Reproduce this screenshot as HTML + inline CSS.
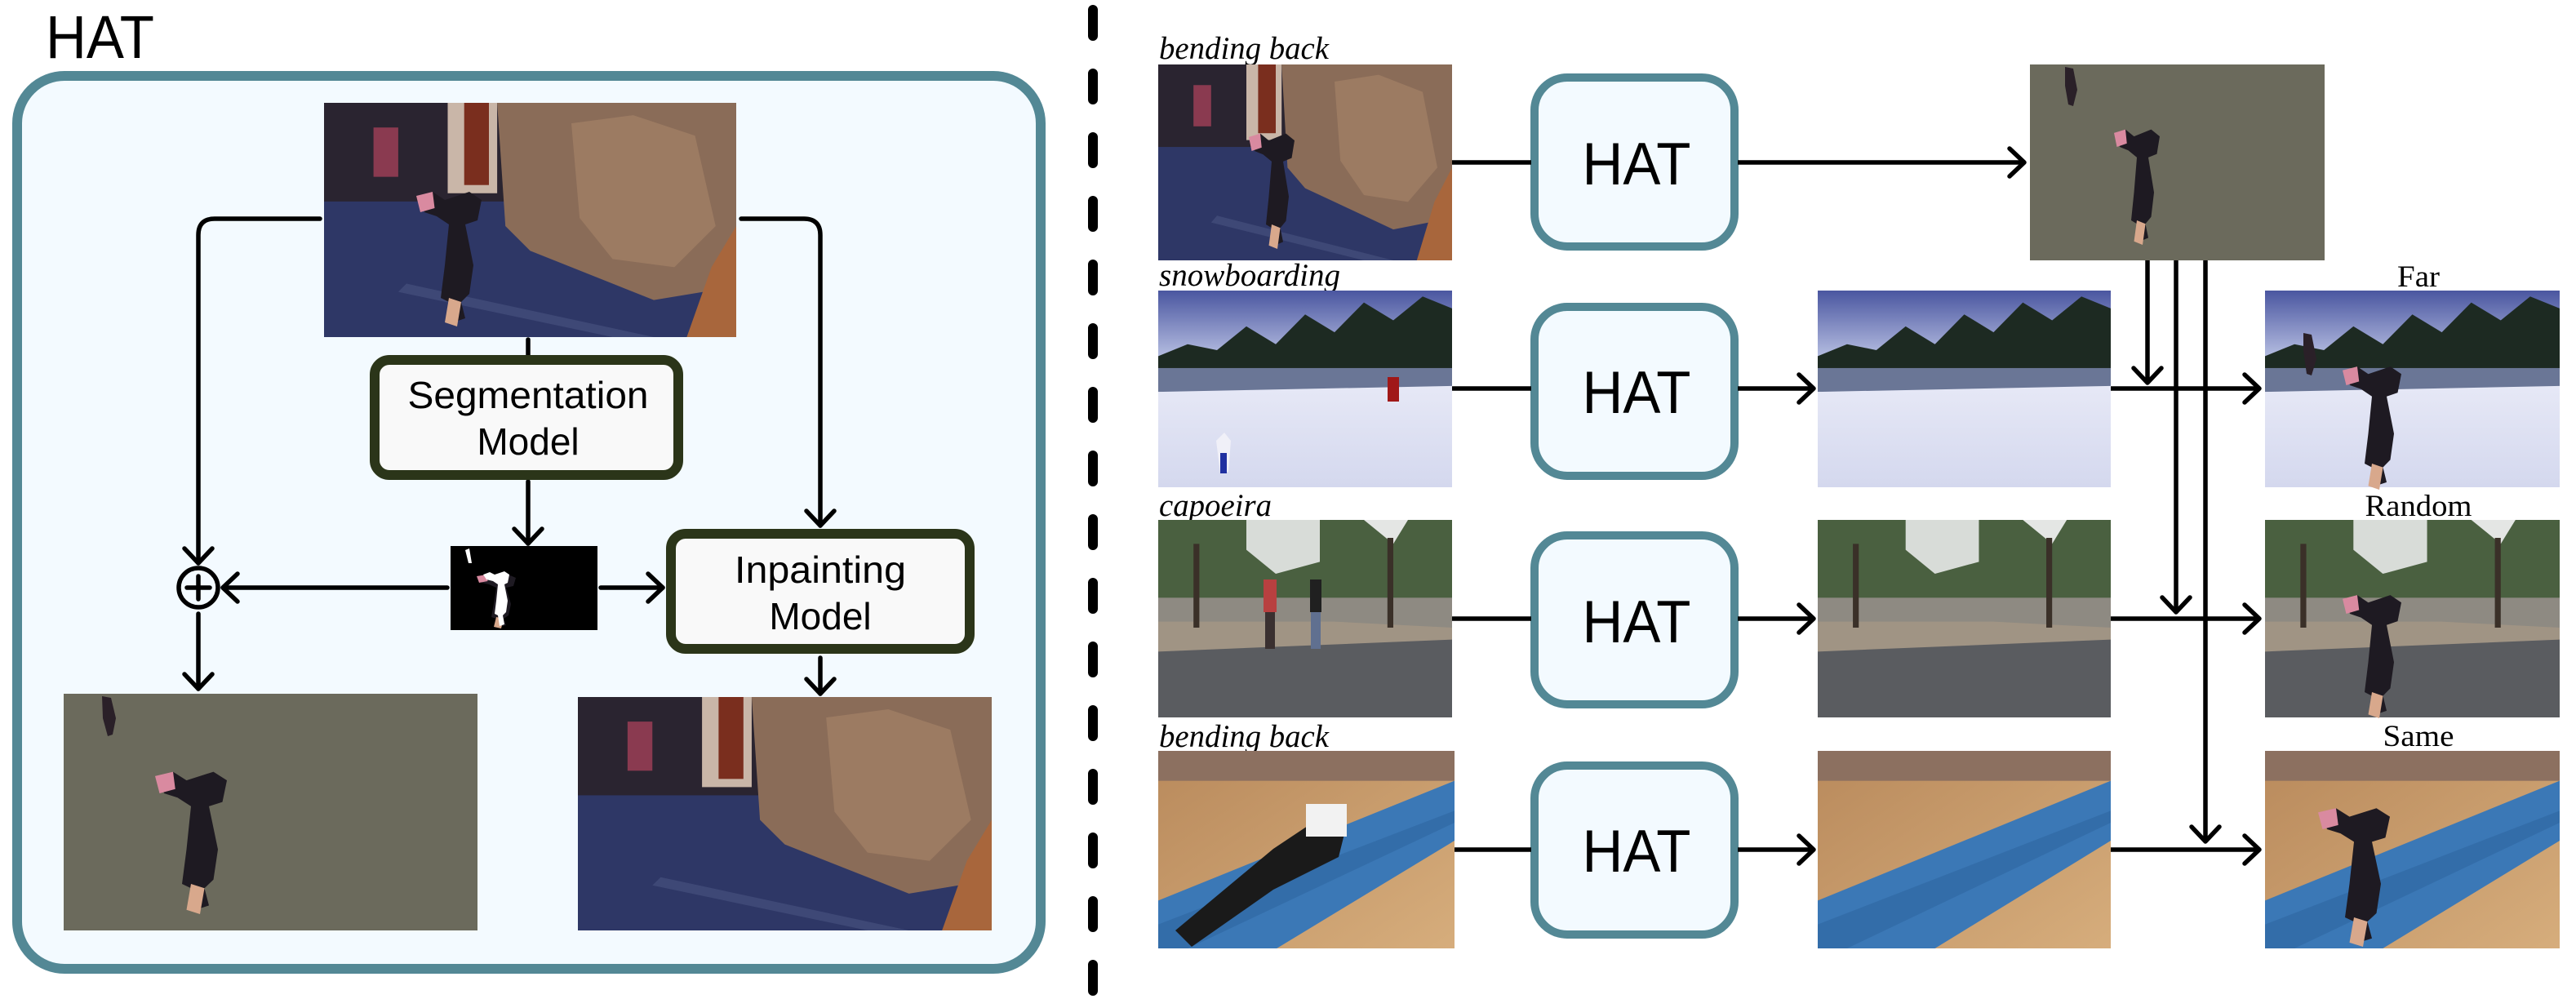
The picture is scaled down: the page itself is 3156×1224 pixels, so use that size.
<!DOCTYPE html>
<html><head><meta charset="utf-8"><style>
html,body{margin:0;padding:0;background:#fff;}
svg{display:block;}
</style></head><body>
<svg width="3156" height="1224" viewBox="0 0 3156 1224" xmlns="http://www.w3.org/2000/svg">
<defs>
<marker id="ar" viewBox="0 0 24 40" refX="21" refY="20" markerWidth="24" markerHeight="40" orient="auto" markerUnits="userSpaceOnUse">
<path d="M3,3 L21,20 L3,37" fill="none" stroke="#000" stroke-width="5.5" stroke-linecap="round" stroke-linejoin="round"/>
</marker>
<linearGradient id="skyG" x1="0" y1="0" x2="0" y2="1"><stop offset="0" stop-color="#4a56a0"/><stop offset="1" stop-color="#b4bce0"/></linearGradient>
<linearGradient id="snowG" x1="0" y1="0" x2="0" y2="1"><stop offset="0" stop-color="#e6e8f6"/><stop offset="1" stop-color="#d4d8ee"/></linearGradient>
<linearGradient id="woodG" x1="0" y1="0" x2="1" y2="1"><stop offset="0" stop-color="#b98a5c"/><stop offset="1" stop-color="#d6ad7c"/></linearGradient>
<symbol id="gym" viewBox="0 0 100 57" preserveAspectRatio="none">
<rect width="100" height="57" fill="#2e3766"/>
<rect width="45" height="24" fill="#2a2430"/>
<rect x="30" y="0" width="12" height="22" fill="#c9b6a8"/>
<rect x="34" y="0" width="6" height="20" fill="#7a2e1e"/>
<rect x="12" y="6" width="6" height="12" fill="#8a3a50"/>
<polygon points="42,0 100,0 100,40 92,46 80,48 70,44 60,40 50,36 44,30" fill="#8a6c58"/>
<polygon points="60,5 75,3 90,8 95,30 85,40 70,38 62,28" fill="#9c7b62"/>
<polygon points="94,40 100,30 100,57 88,57" fill="#a8663c"/>
<polygon points="20,44 80,57 70,57 18,46" fill="#3e4876"/>
</symbol>
<symbol id="person" viewBox="0 0 40 70" preserveAspectRatio="none">
<path d="M2,8 L8,4 L14,8 L26,4 L32,8 L30,18 L24,20 L28,40 L26,54 L22,58 L24,66 L18,68 L16,58 L12,56 L14,40 L16,20 L10,16 L4,14 Z" fill="#1e1a22"/>
<path d="M0,6 L8,4 L9,12 L2,14 Z" fill="#d98aa0"/>
<path d="M16,56 L22,58 L20,70 L14,68 Z" fill="#d8a88c"/>
</symbol>
<symbol id="snow" viewBox="0 0 100 66" preserveAspectRatio="none">
<rect width="100" height="66" fill="url(#snowG)"/>
<rect width="100" height="22" fill="url(#skyG)"/>
<polygon points="0,22 10,18 20,20 30,12 40,18 50,8 60,14 70,4 80,10 90,2 100,6 100,30 0,30" fill="#1d2a22"/>
<rect y="26" width="100" height="8" fill="#6a7696"/>
<polygon points="0,34 100,32 100,66 0,66" fill="url(#snowG)"/>
</symbol>
<symbol id="cap" viewBox="0 0 100 66" preserveAspectRatio="none">
<rect width="100" height="66" fill="#5a5c60"/>
<rect width="100" height="30" fill="#4a6040"/>
<polygon points="30,0 55,0 55,14 40,18 30,10" fill="#d8dcd8"/>
<polygon points="70,0 85,0 80,8" fill="#e4e6e4"/>
<rect y="26" width="100" height="10" fill="#8e8a82"/>
<polygon points="0,34 60,34 100,36 100,40 0,44" fill="#a09484"/>
<rect x="12" y="8" width="2" height="28" fill="#3a3028"/>
<rect x="78" y="6" width="2" height="30" fill="#3a3028"/>
</symbol>
<symbol id="wood" viewBox="0 0 100 66" preserveAspectRatio="none">
<rect width="100" height="66" fill="url(#woodG)"/>
<rect width="100" height="10" fill="#8c7060"/>
<polygon points="0,50 100,10 100,30 40,66 0,66" fill="#3b78b6"/>
<polygon points="0,58 100,20 100,24 10,66 0,66" fill="#2f66a0" opacity="0.6"/>
</symbol>
</defs>

<!-- LEFT PANEL -->
<text x="56" y="71" font-family="Liberation Sans, sans-serif" font-size="74" textLength="133" lengthAdjust="spacingAndGlyphs">HAT</text>
<rect x="21" y="93" width="1254" height="1094" rx="58" fill="#f3faff" stroke="#538895" stroke-width="12"/>

<use href="#gym" x="397" y="126" width="505" height="287"/>
<use href="#person" x="510" y="225" width="100" height="175"/>

<use href="#gym" x="708" y="854" width="507" height="286"/>
<rect x="78" y="850" width="507" height="290" fill="#6b6a5c"/>
<use href="#person" x="190" y="935" width="110" height="185"/>
<path d="M125,853 L136,855 L142,880 L138,900 L132,902 L126,880 Z" fill="#2a2028"/>

<rect x="552" y="669" width="180" height="103" fill="#000"/>
<use href="#person" x="584" y="700" width="60" height="70" style="filter:none"/>
<path d="M570,674 L575,672 L578,690 L574,690 Z" fill="#fff"/>
<rect x="584" y="700" width="60" height="70" fill="none"/>

<g fill="none" stroke="#000" stroke-width="5.5" stroke-linecap="round">
<path d="M392,268 L263,268 Q243,268 243,288 L243,690" marker-end="url(#ar)"/>
<path d="M908,268 L985,268 Q1005,268 1005,288 L1005,644" marker-end="url(#ar)"/>
<path d="M647,416 L647,436"/>
<path d="M647,590 L647,666" marker-end="url(#ar)"/>
<path d="M548,720 L273,720" marker-end="url(#ar)"/>
<path d="M736,720 L812,720" marker-end="url(#ar)"/>
<path d="M243,752 L243,844" marker-end="url(#ar)"/>
<path d="M1005,806 L1005,850" marker-end="url(#ar)"/>
</g>
<circle cx="243" cy="720" r="24" fill="none" stroke="#000" stroke-width="5.5"/>
<path d="M229,720 L257,720 M243,706 L243,734" stroke="#000" stroke-width="5.5" stroke-linecap="round"/>

<!-- paint person mask in white -->
<path d="M592,704 L600,701 L606,704 L618,700 L624,704 L622,714 L618,716 L622,736 L620,750 L616,754 L618,765 L612,767 L610,754 L606,752 L608,736 L610,716 L604,712 L596,710 Z" fill="#fff"/>

<rect x="459" y="441" width="372" height="141" rx="18" fill="#f9f9f9" stroke="#2b3519" stroke-width="12"/>
<text x="647" y="500" text-anchor="middle" font-family="Liberation Sans, sans-serif" font-size="46" textLength="295" lengthAdjust="spacingAndGlyphs">Segmentation</text>
<text x="647" y="557" text-anchor="middle" font-family="Liberation Sans, sans-serif" font-size="46">Model</text>
<rect x="822" y="654" width="366" height="141" rx="18" fill="#f9f9f9" stroke="#2b3519" stroke-width="12"/>
<text x="1005" y="714" text-anchor="middle" font-family="Liberation Sans, sans-serif" font-size="46" textLength="210" lengthAdjust="spacingAndGlyphs">Inpainting</text>
<text x="1005" y="771" text-anchor="middle" font-family="Liberation Sans, sans-serif" font-size="46">Model</text>

<!-- dashed divider -->
<line x1="1339" y1="12" x2="1339" y2="1224" stroke="#000" stroke-width="12" stroke-linecap="round" stroke-dasharray="32 46"/>

<!-- RIGHT PANEL -->
<g font-family="Liberation Serif, serif" font-size="39" font-style="italic">
<text x="1420" y="72" textLength="208" lengthAdjust="spacingAndGlyphs">bending back</text>
<text x="1420" y="350" textLength="222" lengthAdjust="spacingAndGlyphs">snowboarding</text>
<text x="1420" y="632" textLength="138" lengthAdjust="spacingAndGlyphs">capoeira</text>
<text x="1420" y="915" textLength="208" lengthAdjust="spacingAndGlyphs">bending back</text>
</g>
<g font-family="Liberation Serif, serif" font-size="37" text-anchor="middle">
<text x="2963" y="351" textLength="52" lengthAdjust="spacingAndGlyphs">Far</text>
<text x="2963" y="632" textLength="131" lengthAdjust="spacingAndGlyphs">Random</text>
<text x="2963" y="914" textLength="87" lengthAdjust="spacingAndGlyphs">Same</text>
</g>

<!-- column 1 -->
<use href="#gym" x="1419" y="79" width="360" height="240"/>
<use href="#person" x="1530" y="155" width="70" height="150"/>
<use href="#snow" x="1419" y="356" width="360" height="241"/>
<path d="M1490,540 L1500,530 L1508,540 L1505,578 L1495,580 Z" fill="#f0f0f8"/><rect x="1495" y="555" width="8" height="25" fill="#2030a0"/>
<rect x="1700" y="462" width="14" height="30" fill="#a01818"/>
<use href="#cap" x="1419" y="637" width="360" height="242"/>
<rect x="1548" y="710" width="16" height="40" fill="#b84040"/><rect x="1550" y="750" width="12" height="45" fill="#3a3030"/>
<rect x="1605" y="710" width="14" height="40" fill="#202020"/><rect x="1606" y="750" width="12" height="45" fill="#607090"/>
<use href="#wood" x="1419" y="920" width="363" height="242"/>
<polygon points="1440,1140 1560,1040 1620,1000 1650,1010 1640,1050 1560,1090 1460,1160" fill="#1a1a1a"/>
<rect x="1600" y="985" width="50" height="40" fill="#f2f2f2"/>

<!-- HAT boxes -->
<g fill="#f3faff" stroke="#538895" stroke-width="10">
<rect x="1880" y="95" width="245" height="207" rx="40"/>
<rect x="1880" y="376" width="245" height="207" rx="40"/>
<rect x="1880" y="656" width="245" height="207" rx="40"/>
<rect x="1880" y="938" width="245" height="207" rx="40"/>
</g>
<g font-family="Liberation Sans, sans-serif" font-size="73" text-anchor="middle">
<text x="2005" y="226" textLength="133" lengthAdjust="spacingAndGlyphs">HAT</text>
<text x="2005" y="506" textLength="133" lengthAdjust="spacingAndGlyphs">HAT</text>
<text x="2005" y="787" textLength="133" lengthAdjust="spacingAndGlyphs">HAT</text>
<text x="2005" y="1068" textLength="133" lengthAdjust="spacingAndGlyphs">HAT</text>
</g>

<!-- row1 result -->
<rect x="2487" y="79" width="361" height="240" fill="#6b6a5c"/>
<use href="#person" x="2590" y="150" width="70" height="150"/>
<path d="M2530,82 L2540,84 L2545,110 L2540,130 L2534,128 L2530,105 Z" fill="#2a2028"/>

<!-- column 3 -->
<use href="#snow" x="2227" y="356" width="359" height="241"/>
<use href="#cap" x="2227" y="637" width="359" height="242"/>
<use href="#wood" x="2227" y="920" width="359" height="242"/>

<!-- column 4 -->
<use href="#snow" x="2775" y="356" width="361" height="241"/>
<use href="#person" x="2870" y="440" width="90" height="160"/>
<path d="M2822,408 L2832,410 L2838,440 L2832,460 L2826,458 L2822,430 Z" fill="#2a2028"/>
<use href="#cap" x="2775" y="637" width="361" height="242"/>
<use href="#person" x="2870" y="720" width="90" height="160"/>
<use href="#wood" x="2775" y="920" width="361" height="242"/>
<use href="#person" x="2840" y="980" width="110" height="180"/>

<!-- connectors right -->
<g fill="none" stroke="#000" stroke-width="5.5" stroke-linecap="butt">
<path d="M1779,199 L1876,199"/>
<path d="M1779,476 L1876,476"/>
<path d="M1779,758 L1876,758"/>
<path d="M1782,1041 L1876,1041"/>
<path d="M2129,199 L2480,199" marker-end="url(#ar)"/>
<path d="M2129,476 L2222,476" marker-end="url(#ar)"/>
<path d="M2129,758 L2222,758" marker-end="url(#ar)"/>
<path d="M2129,1041 L2222,1041" marker-end="url(#ar)"/>
<path d="M2586,476 L2768,476" marker-end="url(#ar)"/>
<path d="M2586,758 L2768,758" marker-end="url(#ar)"/>
<path d="M2586,1041 L2768,1041" marker-end="url(#ar)"/>
<path d="M2631,319 L2631,469" marker-end="url(#ar)"/>
<path d="M2666,319 L2666,750" marker-end="url(#ar)"/>
<path d="M2702,319 L2702,1031" marker-end="url(#ar)"/>
</g>
</svg>
</body></html>
